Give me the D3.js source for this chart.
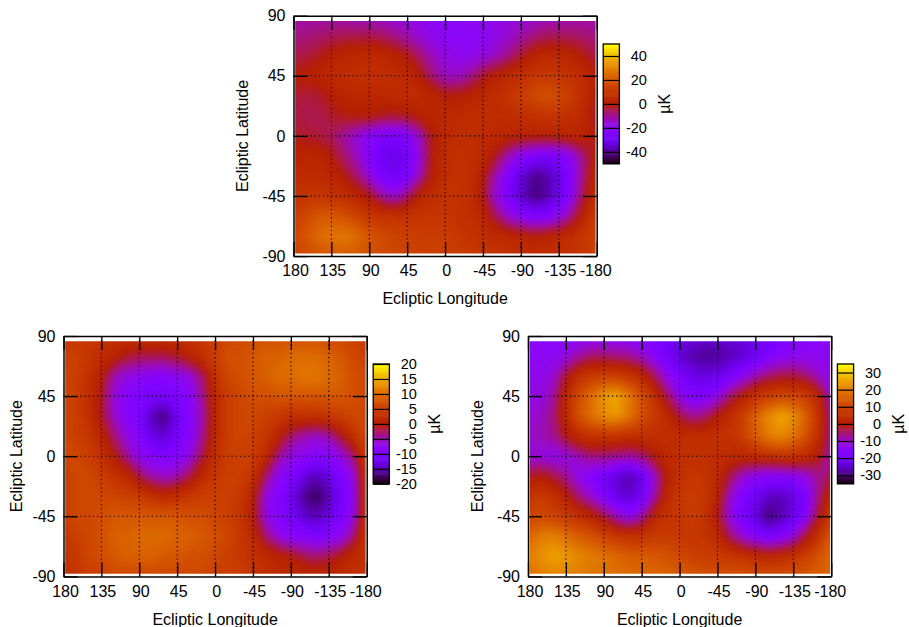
<!DOCTYPE html>
<html><head><meta charset="utf-8">
<style>
html,body{margin:0;padding:0;background:#fff}
text{font-family:"Liberation Sans",Arial,sans-serif;fill:#000}
</style>
<script src="https://cdn.jsdelivr.net/npm/d3@7"></script>
</head><body>
<svg id="chart" width="909" height="627"></svg>
<script>
// Longitudes of the columns and latitudes of the rows, read every 15 degrees
const longitudes = d3.range(180, -181, -15);
const latitudes = d3.range(90, -91, -15);
const lonTicks = [180,135,90,45,0,-45,-90,-135,-180];
const latTicks = [90,45,0,-45,-90];
const xAxisTitle = "Ecliptic Longitude";
const yAxisTitle = "Ecliptic Latitude";
const unitLabel = "µK";

const topMap = [
[-12,-12,-12,-13,-13,-14,-15,-16,-17,-18,-19,-20,-20,-20,-20,-19,-18,-17,-16,-16,-15,-14,-13,-13,-12],
[-9,-8,-7,-6,-5,-5,-5,-6,-9,-12,-16,-19,-21,-21,-21,-20,-18,-15,-12,-8,-6,-6,-6,-7,-9],
[-5,-4,-2,1,3,4,5,4,2,-1,-7,-13,-17,-19,-19,-17,-14,-9,-3,2,4,4,2,-1,-5],
[0,1,2,5,6,7,7,7,6,4,0,-8,-14,-14,-10,-3,2,5,7,10,11,10,8,5,0],
[-3,-4,-3,0,3,4,4,3,5,6,5,3,0,0,2,4,6,9,12,16,18,16,12,6,-1],
[-4,-5,-5,-3,-1,0,0,-2,-3,-2,1,3,4,5,6,6,6,6,7,8,9,9,7,4,-4],
[-2,-3,-4,-6,-11,-16,-22,-26,-27,-24,-14,-1,4,6,6,5,4,3,2,1,1,2,3,3,-2],
[2,3,3,-1,-7,-14,-23,-30,-32,-29,-17,0,6,8,7,4,-3,-13,-21,-25,-27,-26,-20,-8,2],
[4,5,5,3,-1,-7,-17,-27,-30,-26,-13,1,6,8,7,0,-13,-25,-33,-41,-39,-32,-23,-7,4],
[8,9,10,8,6,3,-2,-11,-16,-8,3,6,8,8,7,-2,-17,-26,-35,-42,-39,-31,-21,-4,8],
[12,16,20,20,18,14,10,9,8,8,9,9,9,8,7,3,-6,-16,-22,-26,-25,-20,-9,3,12],
[14,20,25,27,28,25,20,16,14,13,12,12,12,10,8,6,5,4,3,1,2,4,7,10,14],
[14,16,18,20,21,20,18,16,15,14,13,13,13,12,11,10,9,8,7,6,6,7,8,10,13]
];
const leftMap = [
[4,4,4,3,3,3,3,3,3,3,3,4,5,6,6,7,7,7,7,7,7,6,6,5,4],
[5,5,4,2,1,-1,-2,-2,-2,-1,1,3,5,7,7,8,9,9,10,10,10,9,8,6,5],
[6,5,3,0,-5,-7,-8,-9,-9,-8,-7,-3,3,6,7,8,9,10,10,11,11,10,9,7,6],
[6,5,3,-1,-7,-9,-10,-11,-11,-10,-9,-4,2,5,6,7,7,8,8,8,8,8,8,7,6],
[6,5,3,-1,-6,-9,-10,-15,-17,-12,-9,-5,2,5,6,6,5,4,3,3,3,4,5,6,6],
[6,5,4,1,-3,-7,-9,-13,-14,-11,-9,-4,2,5,6,5,4,1,-3,-5,-6,-5,-1,3,6],
[6,6,5,3,0,-4,-8,-9,-10,-9,-7,-2,3,5,5,5,2,-4,-7,-8,-9,-9,-7,-3,5],
[5,6,6,5,3,2,-2,-5,-6,-5,-2,2,4,5,5,3,-3,-8,-10,-13,-15,-13,-10,-7,4],
[5,6,6,6,6,5,5,3,2,3,4,5,5,5,4,1,-7,-9,-12,-16,-18,-15,-11,-8,4],
[5,6,6,7,8,8,8,8,8,8,7,7,6,5,4,0,-7,-9,-11,-14,-15,-13,-10,-7,4],
[4,5,6,7,9,9,10,10,10,9,9,8,7,6,4,2,-3,-7,-9,-9,-10,-9,-8,-3,4],
[3,4,6,7,8,9,9,9,8,8,7,7,6,5,4,3,2,1,0,-2,-3,-2,0,2,3],
[3,4,5,5,6,6,6,6,6,6,6,6,5,5,5,4,3,2,2,2,2,2,2,3,3]
];
const rightMap = [
[-15,-15,-15,-15,-15,-15,-15,-15,-16,-17,-18,-20,-22,-23,-24,-24,-24,-23,-22,-20,-19,-17,-16,-15,-15],
[-14,-14,-14,-12,-8,-5,-5,-6,-7,-10,-15,-20,-24,-27,-28,-28,-26,-24,-21,-18,-15,-14,-14,-14,-14],
[-13,-13,-11,-2,5,8,9,9,7,3,-4,-13,-18,-22,-23,-22,-19,-14,-9,-5,-3,-3,-5,-10,-13],
[-12,-12,-8,3,12,18,24,26,20,13,5,-4,-13,-18,-17,-13,-5,1,6,9,11,11,9,3,-11],
[-11,-10,-6,4,13,18,22,24,19,13,8,3,-3,-7,-5,0,4,9,16,22,26,23,16,6,-8],
[-10,-9,-7,-1,4,6,6,6,5,5,5,5,4,5,5,5,6,9,15,20,22,19,13,5,-8],
[-11,-12,-13,-12,-9,-6,-6,-7,-8,-6,-1,3,5,5,5,4,3,3,4,5,6,6,4,0,-9],
[-2,0,-3,-7,-13,-17,-20,-24,-27,-22,-11,1,5,7,6,3,-4,-11,-14,-16,-16,-15,-12,-7,-3],
[6,8,5,1,-6,-11,-17,-22,-25,-20,-9,3,7,8,7,2,-11,-18,-21,-25,-26,-23,-18,-6,4],
[10,11,10,8,5,2,-3,-10,-14,-9,2,6,7,8,6,-1,-13,-19,-23,-30,-27,-22,-16,-2,8],
[16,20,21,18,15,13,10,7,6,6,8,8,7,7,6,3,-5,-12,-16,-19,-17,-12,-2,6,14],
[20,23,25,24,22,20,19,17,15,15,14,13,11,9,8,8,7,6,4,3,4,6,9,13,17],
[18,20,21,21,20,19,18,18,17,17,17,16,15,14,13,13,13,13,12,12,13,13,14,15,17]
];
const topBarTicks = [-40,-20,0,20,40];
const leftBarTicks = [-20,-15,-10,-5,0,5,10,15,20];
const rightBarTicks = [-30,-20,-10,0,10,20,30];

const panels = [
 {map:topMap,  range:50, ticks:topBarTicks,  x0:293.5, y0:15.7, yTitle:248, barX:603.2, barY:44,  titleDrop:48},
 {map:leftMap, range:20, ticks:leftBarTicks, x0:63.5,  y0:336,  yTitle:21.5,barX:373.2, barY:364, titleDrop:48.5},
 {map:rightMap,range:35, ticks:rightBarTicks,x0:528,   y0:336,  yTitle:483, barX:837.4, barY:364, titleDrop:48.5}
];
const W = 303.2, H = 240.4, BARW = 16.2, BARH = 119.8, TICK = 14, FONT = 16;

// gnuplot default pm3d palette (rgbformulae 7,5,15)
function palette(t){
  t = Math.max(0, Math.min(1, t));
  const r = Math.sqrt(t), g = t*t*t, b = Math.max(0, Math.sin(2*Math.PI*t));
  return d3.rgb(r*255, g*255, b*255).formatHex();
}

const svg = d3.select("#chart");
const defs = svg.append("defs");
defs.append("filter").attr("id","soften")
  .attr("filterUnits","userSpaceOnUse").attr("x",0).attr("y",0).attr("width",909).attr("height",627)
  .attr("color-interpolation-filters","sRGB")
  .append("feGaussianBlur").attr("stdDeviation","3 3.5");

panels.forEach((p, idx) => {
  const g = svg.append("g");
  const x = d3.scaleLinear().domain([180,-180]).range([p.x0, p.x0+W]);
  const y = d3.scaleLinear().domain([90,-90]).range([p.y0, p.y0+H]);
  const colour = d3.scaleLinear().domain([-p.range, p.range]).range([0,1]);
  const nx = longitudes.length, ny = latitudes.length;
  const values = p.map.flat();
  const step = p.range/90;
  const contours = d3.contours().size([nx, ny]).smooth(true)
    .thresholds(d3.range(-p.range-step, p.range+step, step))(values);
  const lonAt = d3.scaleLinear().domain([0.5, nx-0.5]).range([longitudes[0], longitudes[nx-1]]);
  const latAt = d3.scaleLinear().domain([0.5, ny-0.5]).range([latitudes[0], latitudes[ny-1]]);
  const path = d3.geoPath(d3.geoTransform({point(a,b){ this.stream.point(x(lonAt(a)), y(latAt(b))); }}));
  const clipId = "heat"+idx;
  g.append("clipPath").attr("id",clipId).append("rect")
    .attr("x",x(178)).attr("y",y(86))
    .attr("width",x(-178.7)-x(178)).attr("height",y(-88)-y(86));
  g.append("g").attr("clip-path",`url(#${clipId})`)
    .append("g").attr("filter","url(#soften)")
    .selectAll("path").data(contours).join("path")
    .attr("d",path)
    .attr("fill",d=>palette(colour(d.value+step/2)))
    .attr("stroke",d=>palette(colour(d.value+step/2)))
    .attr("stroke-width",0.4);

  // dotted grid
  const dots = {stroke:"#000","stroke-width":1.1,"stroke-dasharray":"1.2 3"};
  const grid = g.append("g");
  const gridV = grid.selectAll(".v").data(lonTicks.slice(1,-1)).join("line")
    .attr("x1",d=>x(d)).attr("x2",d=>x(d)).attr("y1",y(90)).attr("y2",y(-90));
  const gridH = grid.selectAll(".h").data(latTicks.slice(1,-1)).join("line")
    .attr("x1",x(180)).attr("x2",x(-180)).attr("y1",d=>y(d)).attr("y2",d=>y(d));
  [gridV,gridH].forEach(s=>{for(const k in dots) s.attr(k,dots[k]);});

  // axes: inward ticks on all four sides
  const style = s => {
    s.select(".domain").attr("stroke","#000").attr("stroke-width",1.5);
    s.selectAll(".tick line").attr("stroke","#000").attr("stroke-width",1.3);
  };
  const bottom = g.append("g").attr("transform",`translate(0,${p.y0+H})`)
    .call(d3.axisBottom(x).tickValues(lonTicks).tickSize(-TICK).tickSizeOuter(0).tickPadding(9).tickFormat(d=>d));
  bottom.call(style).selectAll("text").attr("font-size",FONT).attr("fill","#000")
    .style("font-family","'Liberation Sans'").attr("dx",(d,i)=>i===0?1.5:i===8?-1.5:1);
  const top = g.append("g").attr("transform",`translate(0,${p.y0})`)
    .call(d3.axisTop(x).tickValues(lonTicks).tickSize(-TICK).tickSizeOuter(0).tickFormat(""));
  top.call(style);
  const left = g.append("g").attr("transform",`translate(${p.x0},0)`)
    .call(d3.axisLeft(y).tickValues(latTicks).tickSize(-TICK).tickSizeOuter(0).tickPadding(8).tickFormat(d=>d));
  left.call(style).selectAll("text").attr("font-size",FONT).attr("fill","#000")
    .style("font-family","'Liberation Sans'");
  const right = g.append("g").attr("transform",`translate(${p.x0+W},0)`)
    .call(d3.axisRight(y).tickValues(latTicks).tickSize(-TICK).tickSizeOuter(0).tickFormat(""));
  right.call(style);

  // axis titles
  g.append("text").attr("x",x(0)).attr("y",p.y0+H+p.titleDrop).attr("text-anchor","middle")
    .attr("font-size",16).text(xAxisTitle);
  g.append("text").attr("transform",`translate(${p.yTitle},${y(0)}) rotate(-90)`)
    .attr("text-anchor","middle").attr("font-size",16).text(yAxisTitle);

  // colour box
  const by0 = p.barY;
  const bar = d3.scaleLinear().domain([-p.range,p.range]).range([by0+BARH, by0]);
  const levels = d3.range(-p.range, p.range, 2*p.range/128);
  g.append("g").selectAll("rect").data(levels).join("rect")
    .attr("x",p.barX).attr("width",BARW)
    .attr("y",d=>bar(d+2*p.range/128)-0.3)
    .attr("height",d=>bar(d)-bar(d+2*p.range/128)+0.6)
    .attr("fill",d=>palette(colour(d+p.range/128)));
  const barAxis = g.append("g").attr("transform",`translate(${p.barX+BARW},0)`)
    .call(d3.axisRight(bar).tickValues(p.ticks).tickSize(-BARW).tickSizeOuter(0).tickPadding(0).tickFormat(d=>d));
  barAxis.select(".domain").remove();
  barAxis.selectAll(".tick line").attr("stroke","#000").attr("stroke-width",1.2);
  barAxis.selectAll("text").attr("font-size",14.5).attr("fill","#000")
    .style("font-family","'Liberation Sans'").attr("text-anchor","end").attr("x",27.5);
  g.append("rect").attr("x",p.barX).attr("y",by0).attr("width",BARW).attr("height",BARH)
    .attr("fill","none").attr("stroke","#000").attr("stroke-width",1.3);
  g.append("text").attr("transform",`translate(${p.barX+BARW+50.5},${by0+BARH/2}) rotate(-90)`)
    .attr("text-anchor","middle").attr("font-size",16).text(unitLabel);
});
</script>
</body></html>
